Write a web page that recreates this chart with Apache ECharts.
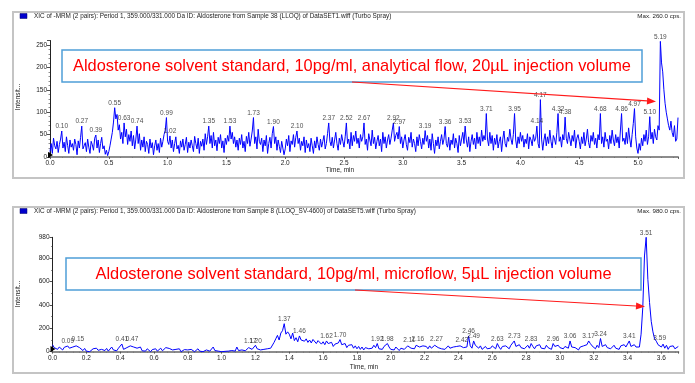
<!DOCTYPE html>
<html><head><meta charset="utf-8">
<script src="https://cdn.jsdelivr.net/npm/echarts@6/dist/echarts.min.js"></script>
<style>html,body{margin:0;padding:0;background:#fff}#c{width:695px;height:383px}</style>
</head><body><div id="c"></div>
<script>
// ---------- DATA ----------
const TOP_STEP = 0.01;   // min per point, starting at 0.00
const topIntensity = [
12,30,8,42,25,18,35,10,28,40,
58,20,33,12,45,26,8,38,22,30,
15,40,28,5,36,20,44,69,18,25,
32,12,40,22,8,35,27,15,42,49,
20,38,10,30,44,18,25,6,15,3,
12,25,40,55,78,110,85,95,60,72,
40,55,30,76,45,62,28,50,35,58,
25,48,18,40,69,30,52,15,38,22,
45,12,35,28,8,40,20,32,5,25,
38,15,30,10,42,22,35,50,60,88,
35,28,47,20,38,12,30,45,18,26,
8,36,22,40,15,28,44,10,33,20,
38,25,12,46,30,18,42,8,35,24,
40,15,52,28,45,69,30,48,20,55,
25,38,14,44,30,50,20,36,10,42,
28,48,35,69,40,55,30,45,22,38,
15,42,28,50,20,35,12,46,30,55,
24,40,58,88,30,45,18,62,35,28,
42,12,38,25,48,8,30,44,20,52,
68,30,45,15,38,24,10,35,20,5,
18,40,25,48,12,36,28,50,22,44,
58,30,42,15,35,25,45,10,38,20,
30,12,42,25,8,36,20,45,28,15,
40,22,35,48,18,30,52,76,35,25,
44,20,38,55,30,15,42,28,50,35,
22,45,76,30,40,18,55,25,48,35,
58,30,42,20,50,35,45,76,28,40,
15,52,38,25,60,30,44,18,35,48,
25,40,12,55,30,45,20,38,50,28,
42,60,76,35,48,55,40,68,30,45,
20,38,50,28,15,44,32,55,22,40,
30,12,45,25,50,35,18,42,28,59,
35,48,20,40,15,52,30,8,38,25,
45,18,35,50,28,40,68,30,22,44,
15,38,28,52,20,42,30,10,48,25,
40,55,30,69,38,22,45,12,35,50,
28,42,18,55,30,45,25,60,35,48,
38,97,40,25,55,30,48,15,42,28,
50,20,35,45,12,40,58,30,22,44,
35,62,40,28,50,97,38,20,45,30,
55,35,48,22,40,30,52,18,45,38,
25,50,35,42,69,30,20,128,40,15,
38,52,25,45,30,60,35,20,48,40,
28,55,97,35,45,22,50,38,89,42,
30,55,40,25,48,35,60,20,42,50,
35,18,45,30,55,25,40,62,32,20,
48,35,55,28,42,20,50,38,97,30,
45,22,55,35,40,18,48,30,60,38,
25,50,32,45,20,58,97,35,42,28,
55,30,65,40,22,50,75,108,45,20,
8,30,15,42,25,50,35,60,28,45,
90,40,55,30,62,45,38,70,60,258,
210,190,150,120,100,85,70,60,80,55,
45,70,35,40,88
];
const topPeakTimes = [0.10,0.27,0.39,0.55,0.63,0.74,0.99,1.02,1.35,1.53,1.73,1.90,2.10,2.37,2.52,2.67,2.92,2.97,3.19,3.36,3.53,3.71,3.95,4.14,4.17,4.32,4.38,4.68,4.86,4.97,5.10,5.19];

const BOT_STEP = 0.01;
const bottomIntensity = [
60,35,45,20,40,30,15,38,25,49,
30,18,40,25,50,65,35,20,10,28,
5,15,0,10,25,8,30,12,4,20,
35,10,28,5,18,40,15,25,8,30,
45,66,20,10,35,25,50,65,40,55,
30,15,40,8,20,5,25,12,0,18,
10,25,5,15,30,8,20,35,45,28,
38,15,5,20,10,25,0,12,18,5,
15,3,20,8,0,12,25,5,10,0,
8,15,0,5,20,40,10,0,5,12,
0,8,3,15,5,0,10,20,5,40,
10,5,15,0,8,20,35,50,20,30,
55,25,40,15,30,20,10,25,15,30,
15,80,110,140,100,160,180,240,150,170,
150,110,160,95,120,85,135,100,115,90,
110,80,100,75,105,90,70,95,80,65,
85,60,92,70,55,80,45,65,50,75,
104,60,45,70,35,55,40,60,30,50,
25,45,20,40,15,35,50,25,40,30,
55,35,70,25,40,20,45,30,70,40,
20,35,15,40,25,10,30,45,20,35,
50,60,30,45,25,55,70,40,30,50,
35,45,25,50,30,40,55,70,35,45,
25,40,20,35,50,30,15,40,25,45,
30,50,60,35,25,40,135,50,30,92,
55,40,30,50,20,35,45,25,40,30,
50,35,25,70,40,20,45,30,50,35,
25,55,40,92,45,30,60,35,50,25,
40,55,30,70,45,25,50,35,60,30,
45,25,55,35,40,20,70,45,30,55,
35,50,25,45,60,30,92,40,25,35,
30,15,40,25,50,35,60,92,70,50,
40,25,55,35,113,45,30,60,35,45,
25,40,55,30,45,20,50,35,60,40,
55,92,45,30,60,40,50,40,150,380,
820,980,620,420,260,170,110,90,60,75,
40,65,30,55,20,45,35,50,25,40,
45
];
const bottomPeakTimes = [0.09,0.15,0.41,0.47,1.17,1.20,1.37,1.46,1.62,1.70,1.92,1.98,2.11,2.16,2.27,2.42,2.46,2.49,2.63,2.73,2.83,2.96,3.06,3.17,3.24,3.41,3.51,3.59];

const topAxis = {xMax: 5.34, xInterval: 0.5, yMax: 260, yInterval: 50};
const bottomAxis = {xMax: 3.70, xInterval: 0.2, yMax: 980, yInterval: 200};

const topHeader = 'XIC of -MRM (2 pairs): Period 1, 359.000/331.000 Da ID: Aldosterone from Sample 38 (LLOQ) of DataSET1.wiff (Turbo Spray)';
const bottomHeader = 'XIC of -MRM (2 pairs): Period 1, 359.000/331.000 Da ID: Aldosterone from Sample 8 (LLOQ_SV-4600) of DataSET5.wiff (Turbo Spray)';
const topMax = 'Max. 260.0 cps.';
const bottomMax = 'Max. 980.0 cps.';
const topNote = 'Aldosterone solvent standard, 10pg/ml, analytical flow, 20µL injection volume';
const bottomNote = 'Aldosterone solvent standard, 10pg/ml, microflow, 5µL injection volume';

// ---------- BUILD ----------
const toPairs = (arr, step) => arr.map((v, i) => [+(i * step).toFixed(2), v]);
const peaks = (times, arr, step) => times.map(t => [t, arr[Math.round(t / step)]]);

const FONT = 'Liberation Sans, Arial, sans-serif';
function xAx(idx, cfg) {
  return {
    type: 'value', gridIndex: idx, min: 0, max: cfg.xMax, interval: cfg.xInterval,
    axisLine: {show: true, onZero: false, lineStyle: {color: '#8c8c8c', width: 2}},
    axisTick: {show: true, length: 2, lineStyle: {color: '#444', width: 0.8}},
    minorTick: {show: true, splitNumber: 5, length: 1, lineStyle: {color: '#666', width: 0.6}},
    axisLabel: {fontSize: 6.5, color: '#222', fontFamily: FONT, margin: 3, showMaxLabel: false,
      formatter: v => v.toFixed(1)},
    splitLine: {show: false}
  };
}
function yAx(idx, cfg, showMax, minorSplit) {
  return {
    type: 'value', gridIndex: idx, min: 0, max: cfg.yMax, interval: cfg.yInterval,
    axisLine: {show: true, lineStyle: {color: '#222', width: 1}},
    axisTick: {show: true, length: 3, lineStyle: {color: '#222', width: 0.8}},
    minorTick: {show: true, splitNumber: minorSplit, length: 1.5, lineStyle: {color: '#444', width: 0.6}},
    axisLabel: {fontSize: 6.5, color: '#222', fontFamily: FONT, margin: 3, showMaxLabel: showMax},
    splitLine: {show: false}
  };
}
function peakSeries(idx, data) {
  return {
    type: 'scatter', xAxisIndex: idx, yAxisIndex: idx, data, symbolSize: 0, silent: true, clip: false, z: 5,
    label: {show: true, position: 'top', distance: 1, fontSize: 6.5, color: '#222', fontFamily: FONT,
      formatter: p => p.value[0].toFixed(2)}
  };
}
function lineSeries(idx, data) {
  return {
    type: 'line', xAxisIndex: idx, yAxisIndex: idx, data, showSymbol: false, symbol: 'none', sampling: null,
    silent: true, lineStyle: {color: '#0000ff', width: 1}, z: 3
  };
}
function arrow(x1, y1, x2, y2) {
  const dx = x2 - x1, dy = y2 - y1, L = Math.hypot(dx, dy), ux = dx / L, uy = dy / L;
  const hl = 9, hw = 3.5, bx = x2 - ux * hl, by = y2 - uy * hl;
  return [
    {type: 'line', shape: {x1, y1, x2: bx, y2: by}, style: {stroke: '#ff1a1a', lineWidth: 1.2}, z: 20},
    {type: 'polygon', shape: {points: [[x2, y2], [bx - uy * hw, by + ux * hw], [bx + uy * hw, by - ux * hw]]},
      style: {fill: '#ff1a1a'}, z: 20}
  ];
}
function panel(y0, h, header, maxTxt, note, box, arr, ylabY) {
  return [
    {type: 'rect', shape: {x: 13, y: y0, width: 671, height: h}, style: {fill: 'none', stroke: '#c4c4c4', lineWidth: 2}, z: 1},
    {type: 'rect', shape: {x: 20, y: y0 + 1.5, width: 7, height: 5}, style: {fill: '#0000cc', stroke: '#000066', lineWidth: 0.5}, z: 2},
    {type: 'text', x: 34, y: y0 + 4, style: {text: header, font: '6.4px ' + FONT, fill: '#222', textVerticalAlign: 'middle'}, z: 2},
    {type: 'text', x: 681, y: y0 + 4.5, style: {text: maxTxt, font: '6.2px ' + FONT, fill: '#222', textAlign: 'right', textVerticalAlign: 'middle'}, z: 2},
    {type: 'text', x: 18, y: ylabY, rotation: Math.PI / 2, style: {text: 'Intensit...', font: '6.5px ' + FONT, fill: '#222', textAlign: 'center', textVerticalAlign: 'middle'}, z: 2},
    {type: 'rect', shape: box, style: {fill: '#fff', stroke: '#4f9fd8', lineWidth: 1.5}, z: 10},
    {type: 'text', x: box.x + box.width / 2, y: box.y + box.height / 2 + 0.5,
      style: {text: note, font: '16.4px ' + FONT, fill: '#ff0000', textAlign: 'center', textVerticalAlign: 'middle'}, z: 11},
    ...arrow(arr[0], arr[1], arr[2], arr[3])
  ];
}

const option = {
  animation: false,
  backgroundColor: '#fff',
  grid: [
    {left: 50, right: 17, top: 40.5, bottom: 226},
    {left: 52.5, right: 16.7, top: 237.3, bottom: 31.3}
  ],
  xAxis: [xAx(0, topAxis), xAx(1, bottomAxis)],
  yAxis: [yAx(0, topAxis, false, 5), yAx(1, bottomAxis, true, 2)],
  series: [
    lineSeries(0, toPairs(topIntensity, TOP_STEP)),
    peakSeries(0, peaks(topPeakTimes, topIntensity, TOP_STEP)),
    lineSeries(1, toPairs(bottomIntensity, BOT_STEP)),
    peakSeries(1, peaks(bottomPeakTimes, bottomIntensity, BOT_STEP))
  ],
  graphic: {elements: [
    ...panel(12, 166, topHeader, topMax, topNote, {x: 62, y: 50, width: 580, height: 32}, [352, 82, 656, 101.5], 97),
    ...panel(207, 166, bottomHeader, bottomMax, bottomNote, {x: 66, y: 258, width: 575, height: 32}, [355, 290, 645, 306.5], 294),
    {type: 'text', x: 340, y: 170, style: {text: 'Time, min', font: '6.5px ' + FONT, fill: '#222', textAlign: 'center', textVerticalAlign: 'middle'}, z: 2},
    {type: 'text', x: 364, y: 367.5, style: {text: 'Time, min', font: '6.5px ' + FONT, fill: '#222', textAlign: 'center', textVerticalAlign: 'middle'}, z: 2},
    {type: 'polygon', shape: {points: [[48, 152], [48, 158], [53, 155]]}, style: {fill: '#000'}, z: 6},
    {type: 'polygon', shape: {points: [[50.5, 346], [50.5, 352], [55.5, 349]]}, style: {fill: '#000'}, z: 6}
  ]}
};
const chart = echarts.init(document.getElementById('c'), null, {renderer: 'canvas'});
chart.setOption(option);
</script>
</body></html>
